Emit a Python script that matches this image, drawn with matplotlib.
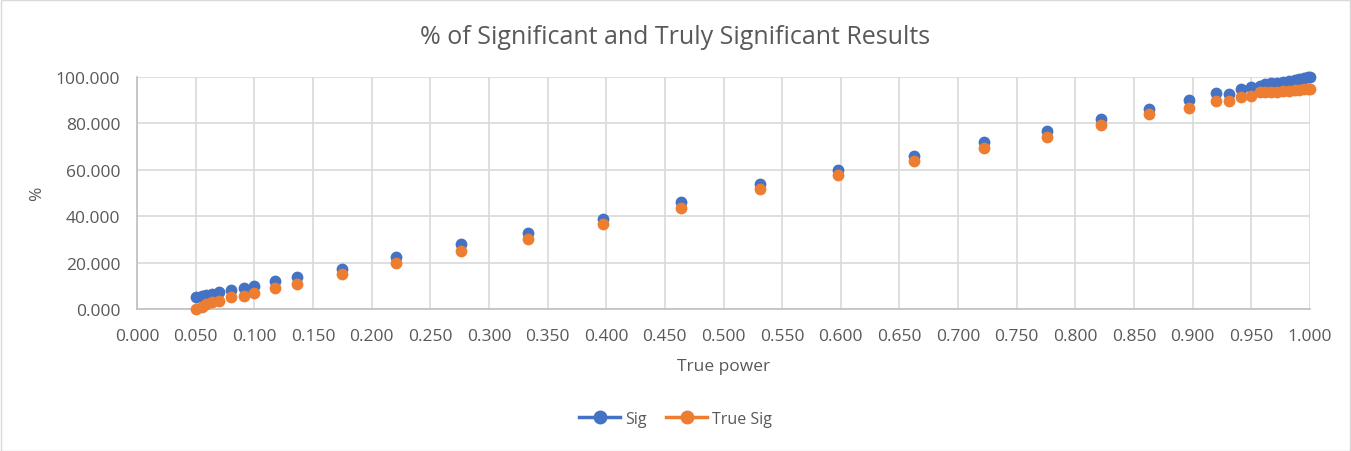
import matplotlib
matplotlib.use("Agg")
import matplotlib.pyplot as plt
from matplotlib.lines import Line2D
from matplotlib.patches import Rectangle

plt.rcParams['font.family'] = ['Open Sans', 'DejaVu Sans']

true_power = [0.050, 0.055, 0.059, 0.064, 0.070, 0.080, 0.091, 0.100, 0.118, 0.136,
              0.175, 0.221, 0.276, 0.333, 0.397, 0.464, 0.531, 0.598, 0.662, 0.722,
              0.776, 0.822, 0.863, 0.897, 0.920, 0.931, 0.941, 0.950, 0.957, 0.962,
              0.967, 0.972, 0.977, 0.982, 0.987, 0.991, 0.995, 0.998, 1.000]
sig = [5.0, 5.8, 6.2, 6.4, 7.2, 8.3, 8.9, 10.0, 12.2, 13.6,
       17.3, 22.4, 28.0, 32.8, 38.9, 46.1, 53.9, 59.9, 66.0, 72.0,
       76.7, 81.9, 86.4, 90.1, 92.9, 92.8, 95.0, 95.5, 96.3, 96.8,
       97.2, 97.6, 98.0, 98.4, 98.8, 99.2, 99.6, 99.8, 100.0]
true_sig = [0.0, 1.0, 2.2, 2.9, 3.6, 5.3, 5.8, 6.9, 9.2, 10.8,
            15.1, 19.9, 25.0, 30.3, 36.7, 43.6, 51.6, 57.9, 63.8, 69.5,
            74.2, 79.4, 83.9, 86.7, 89.5, 89.8, 91.2, 91.7, 93.4, 93.5,
            93.6, 93.7, 93.9, 94.1, 94.3, 94.5, 94.7, 94.9, 95.0]

x_ticks = [i * 0.05 for i in range(21)]
y_ticks = [0, 20, 40, 60, 80, 100]

BLUE = '#4472C4'
ORANGE = '#ED7D31'
TXT = '#595959'
GRID = '#D9D9D9'

W, H = 1351, 452
fig = plt.figure(figsize=(W / 100, H / 100), dpi=100)
ax = fig.add_axes([137 / W, 1 - 310 / H, (1310 - 137) / W, (310 - 78) / H])

ax.scatter(true_power, sig, s=72, color=BLUE, zorder=3, linewidths=0, clip_on=False)
ax.scatter(true_power, true_sig, s=72, color=ORANGE, zorder=4, linewidths=0, clip_on=False)

ax.set_xlim(0, 1)
ax.set_ylim(0, 100)
ax.set_xticks(x_ticks)
ax.set_xticklabels([f"{v:.3f}" for v in x_ticks])
ax.set_yticks(y_ticks)
ax.set_yticklabels([f"{v:.3f}" for v in y_ticks])
ax.grid(True, color=GRID, linewidth=1.2, zorder=0)
ax.set_axisbelow(True)
for s in ['top', 'right']:
    ax.spines[s].set_visible(False)
for s in ['left', 'bottom']:
    ax.spines[s].set_color('#BFBFBF')
    ax.spines[s].set_linewidth(1.2)
ax.tick_params(axis='both', length=0, labelsize=12.5, labelcolor=TXT)
ax.tick_params(axis='x', pad=14)
ax.tick_params(axis='y', pad=12)

ax.set_xlabel('True power', fontsize=12.5, color=TXT, labelpad=10)
ax.set_ylabel('%', fontsize=12.5, color=TXT, labelpad=8)

fig.text(0.5, 1 - 37 / H, '% of Significant and Truly Significant Results',
         ha='center', va='center', fontsize=18, color=TXT)

handles = [Line2D([0], [0], color=BLUE, lw=2.5, marker='o', markersize=9, label='Sig'),
           Line2D([0], [0], color=ORANGE, lw=2.5, marker='o', markersize=9, label='True Sig')]
leg = fig.legend(handles=handles, loc='center', bbox_to_anchor=(0.5, 1 - 420 / H),
                 ncol=2, frameon=False, fontsize=11.5, handlelength=2.6,
                 columnspacing=1.2, handletextpad=0.3)
for t in leg.get_texts():
    t.set_color(TXT)

fig.patches.append(Rectangle((0.5 / W, 0.5 / H), 1 - 1.5 / W, 1 - 1.5 / H,
                             transform=fig.transFigure, fill=False,
                             edgecolor='#D9D9D9', linewidth=1))

fig.savefig('out.png', dpi=100, facecolor='white')
